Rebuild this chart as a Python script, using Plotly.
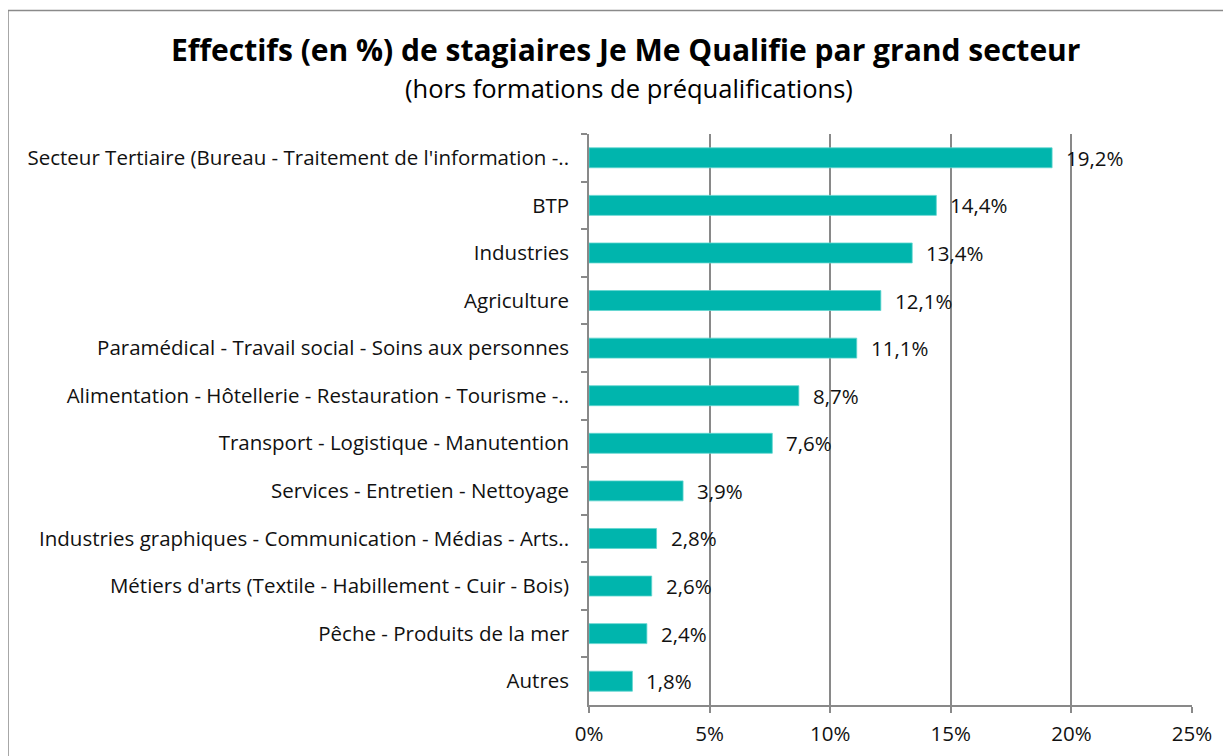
import plotly.graph_objects as go

categories = [
    "Secteur Tertiaire (Bureau - Traitement de l'information -..",
    "BTP",
    "Industries",
    "Agriculture",
    "Paramédical - Travail social - Soins aux personnes",
    "Alimentation - Hôtellerie - Restauration - Tourisme -..",
    "Transport - Logistique - Manutention",
    "Services - Entretien - Nettoyage",
    "Industries graphiques - Communication - Médias - Arts..",
    "Métiers d'arts (Textile - Habillement - Cuir - Bois)",
    "Pêche - Produits de la mer",
    "Autres",
]
values = [19.2, 14.4, 13.4, 12.1, 11.1, 8.7, 7.6, 3.9, 2.8, 2.6, 2.4, 1.8]
tick_vals = [0, 5, 10, 15, 20, 25]
tick_text = ["0%", "5%", "10%", "15%", "20%", "25%"]

title_text = "Effectifs (en %) de stagiaires Je Me Qualifie par grand secteur"
subtitle_text = "(hors formations de préqualifications)"

FONT = "Open Sans"
BAR = "#00B5AD"
GRAY = "#898989"

OFF = 8  # page body margin
W, H = 1231 - OFF, 756 - OFF
L, R, T, B = 589 - OFF, 1192 - OFF, 134 - OFF, 705 - OFF


def px_x(p):
    return (p - OFF - L) / (R - L)


def px_y(p):
    return (B - (p - OFF)) / (B - T)


fig = go.Figure()
fig.add_trace(go.Bar(
    x=values, y=categories, orientation="h",
    marker=dict(color=BAR, line=dict(color="#5fd6cf", width=0.8)),
    hoverinfo="skip",
))

for c, v in zip(categories, values):
    fig.add_annotation(
        x=v, y=c, xref="x", yref="y",
        text=f"{v:.1f}%".replace(".", ","),
        showarrow=False, xanchor="left", yanchor="middle",
        xshift=12, font=dict(family=FONT, size=20.5, color="#111111"),
    )

fig.add_annotation(
    x=px_x(625), y=px_y(50), xref="paper", yref="paper",
    text=f"<b>{title_text}</b>", showarrow=False,
    xanchor="center", yanchor="middle",
    font=dict(family=FONT, size=30, color="#000000"),
)
fig.add_annotation(
    x=px_x(629), y=px_y(88), xref="paper", yref="paper",
    text=subtitle_text, showarrow=False,
    xanchor="center", yanchor="middle",
    font=dict(family=FONT, size=25.5, color="#000000"),
)

fig.add_shape(
    type="rect", xref="paper", yref="paper",
    x0=px_x(8), x1=px_x(1300), y0=px_y(800), y1=px_y(10.5),
    line=dict(color="#8a8a8a", width=1.5), fillcolor="rgba(0,0,0,0)",
    layer="below",
)

fig.update_layout(
    width=W, height=H,
    margin=dict(l=L, r=W - R, t=T, b=H - B, autoexpand=False),
    paper_bgcolor="white", plot_bgcolor="white",
    showlegend=False, bargap=0.58,
    font=dict(family=FONT, size=20.5, color="#111111"),
)
fig.update_xaxes(
    range=[0, 25], tickvals=tick_vals, ticktext=tick_text,
    showgrid=True, gridcolor=GRAY, gridwidth=1.6,
    showline=True, linecolor=GRAY, linewidth=1.6,
    ticks="outside", ticklen=6, tickcolor=GRAY, tickwidth=1.6,
    ticklabelstandoff=4, automargin=False,
    tickfont=dict(family=FONT, size=20.5, color="#111111"),
    zeroline=False, fixedrange=True,
)
fig.update_yaxes(
    categoryorder="array", categoryarray=categories, autorange="reversed",
    showline=True, linecolor=GRAY, linewidth=1.6,
    ticks="outside", ticklen=6, tickcolor=GRAY, tickwidth=1.6,
    tickson="boundaries", ticklabelstandoff=14, automargin=False,
    tickfont=dict(family=FONT, size=20.5, color="#111111"),
    showgrid=False, fixedrange=True,
)

fig.write_html("out.html")
